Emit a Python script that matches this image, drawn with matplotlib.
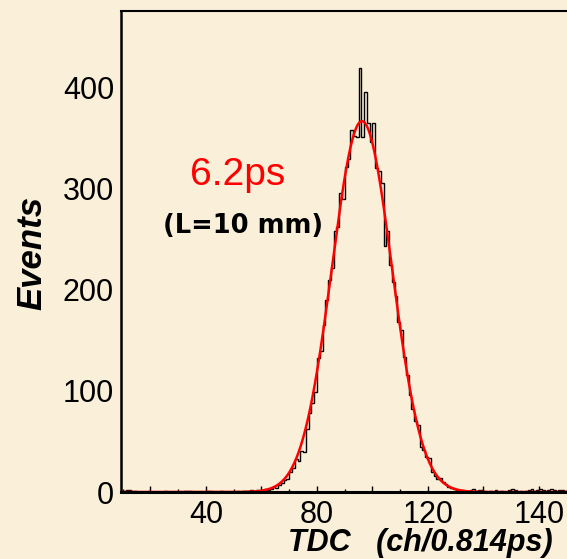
import numpy as np
import matplotlib
matplotlib.use("Agg")
import matplotlib.pyplot as plt
from matplotlib.ticker import MultipleLocator

# TDC spectrum, one count per channel, channels 10 .. 169
first_channel = 10
counts = [
    1, 2, 2, 1, 1, 0, 0, 0, 0, 1,          # 10-19
    0, 0, 0, 0, 0, 1, 0, 0, 0, 0,          # 20-29
    0, 0, 1, 1, 1, 0, 0, 0, 0, 0,          # 30-39
    1, 1, 0, 0, 0, 1, 0, 0, 0, 0,          # 40-49
    0, 1, 0, 1, 1, 1, 2, 1, 2, 1,          # 50-59
    2, 3, 2, 3, 5, 4, 7, 9, 12, 13,        # 60-69
    20, 24, 33, 31, 41, 40, 62, 78, 88, 99,            # 70-79
    133, 140, 165, 190, 210, 222, 258, 262, 296, 290,  # 80-89
    322, 330, 358, 352, 351, 420, 351, 396, 365, 346,  # 90-99
    365, 321, 318, 306, 243, 258, 225, 208, 194, 168,  # 100-109
    160, 134, 116, 96, 82, 70, 66, 45, 42, 35,         # 110-119
    34, 20, 16, 13, 14, 10, 8, 5, 4, 3,    # 120-129
    2, 1, 2, 1, 0, 2, 3, 1, 2, 2,          # 130-139
    1, 0, 1, 0, 2, 0, 1, 0, 0, 2,          # 140-149
    3, 2, 0, 1, 0, 1, 2, 3, 1, 2,          # 150-159
    3, 2, 1, 2, 3, 2, 1, 2, 2, 1,          # 160-169
]

# gaussian fit result
fit_amp = 367.0
fit_mean = 96.2
fit_sigma = 10.8

xtick_pos = [20, 40, 60, 80, 100, 120, 140, 160]
xtick_labels = ["", "40", "", "80", "", "120", "", "140"]
ytick_pos = [0, 100, 200, 300, 400]

bg = "#faefd8"

fig = plt.figure(figsize=(5.67, 5.59), dpi=100, facecolor=bg)
ax = fig.add_axes([121 / 567, 67 / 559, 446 / 567, 481 / 559])
ax.set_facecolor(bg)

edges = np.arange(first_channel, first_channel + len(counts) + 1)
ax.stairs(counts, edges, color="black", lw=1.0)

xf = np.linspace(edges[0], edges[-1], 1200)
yf = fit_amp * np.exp(-0.5 * ((xf - fit_mean) / fit_sigma) ** 2)
ax.plot(xf, yf, color="#ff0000", lw=1.8)

ax.set_xlim(9.37, 170.1)
ax.set_ylim(0, 476)

ax.spines["right"].set_visible(False)
ax.spines["left"].set_linewidth(1.8)
ax.spines["top"].set_linewidth(1.5)
ax.spines["bottom"].set_linewidth(2.2)

ax.set_xticks(xtick_pos)
ax.set_xticklabels(xtick_labels)
ax.xaxis.set_minor_locator(MultipleLocator(10))
ax.tick_params(axis="x", which="major", direction="in", length=4, width=1,
               pad=6, labelsize=22)
ax.tick_params(axis="x", which="minor", direction="in", length=2.5, width=1)
ax.set_yticks(ytick_pos)
ax.tick_params(axis="y", length=0, pad=5, labelsize=22)
for lab in ax.get_xticklabels() + ax.get_yticklabels():
    lab.set_family("Liberation Sans")

fig.text(190 / 567, 1 - 185 / 559, "6.2ps", color="#ff0000", fontsize=28,
         family="Liberation Sans", ha="left", va="baseline")
fig.text(243 / 567, 1 - 226 / 559, "(L=10 mm)", color="black", fontsize=18.5,
         family="DejaVu Sans", weight="bold", ha="center", va="center")

fig.text(32 / 567, 1 - 253 / 559, "Events", rotation=90, fontsize=25,
         family="Liberation Sans", weight="bold", style="italic",
         ha="center", va="center")
fig.text(553 / 567, 8 / 559, "TDC   (ch/0.814ps)", fontsize=22,
         family="Liberation Sans", weight="bold", style="italic",
         ha="right", va="baseline")

fig.savefig("out.png", dpi=100, facecolor=bg)
